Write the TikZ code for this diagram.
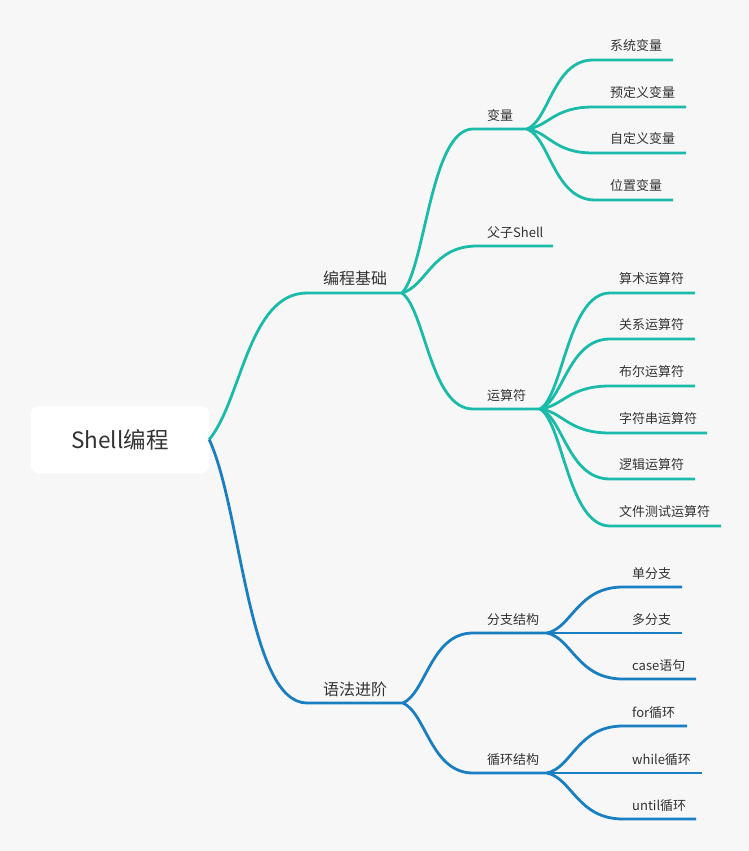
\documentclass[tikz,border=0pt]{standalone}
\usepackage{fontspec}
\setmainfont{Noto Sans CJK SC}
\usetikzlibrary{calc}
\definecolor{bgc}{HTML}{F7F7F7}
\definecolor{tealc}{HTML}{1ABBA8}
\definecolor{bluec}{HTML}{1A7EC3}
\definecolor{txtc}{HTML}{333333}
% #1 style, #2 start point, #3 child name, #4 fraction of the vertical rise used by the first control point
\newcommand\mmcurve[4]{%
  \coordinate (tmpq) at ($(#3L |- #2)!#4!(#3L)$);
  \draw[#1] (#2) .. controls ($(#2)!0.33!(tmpq)$) and ($(#3L -| #2)!0.4!(#3L)$) .. (#3L) -- (#3R);}
\begin{document}
\begin{tikzpicture}[x=1pt,y=-1pt,
  lbl/.style={anchor=west, inner sep=0pt, font=\fontsize{13}{15}\selectfont, text=txtc},
  lblone/.style={anchor=center, inner sep=0pt, font=\fontsize{16}{18}\selectfont, text=txtc},
  tline/.style={draw=tealc, line width=2.8pt},
  bline/.style={draw=bluec, line width=2.8pt}]
\useasboundingbox (0,0) rectangle (749,851);
\fill[bgc] (0,0) rectangle (749,851);
% root
\node[fill=white, rounded corners=7pt, minimum width=178pt, minimum height=67pt, inner sep=0pt,
  font=\fontsize{22.5}{26}\selectfont, text=txtc] (root) at (120,439.5) {Shell编程};
% level 1
\coordinate (bcL) at (307,293); \coordinate (bcR) at (402,293);
\node[lblone] (bc) at (355,278) {编程基础};
\coordinate (yfL) at (307,703); \coordinate (yfR) at (403,703);
\node[lblone] (yf) at (355,689) {语法进阶};
\mmcurve{tline}{root.east}{bc}{0.8}
\mmcurve{bline}{root.east}{yf}{0.8}
% level 2 teal
\foreach \nm/\lx/\rx/\y/\t in {var/473/527/129/变量, fz/477/553/246/父子Shell, ys/473/540/409/运算符}{
  \coordinate (\nm L) at (\lx,\y); \coordinate (\nm R) at (\rx,\y);
  \node[lbl] (\nm) at (487,\y-13.5) {\t};
  \mmcurve{tline}{bcR}{\nm}{0.45}
}
% level 2 blue
\foreach \nm/\lx/\rx/\y/\t in {fzj/473/547/633/分支结构, xhj/473/547/773/循环结构}{
  \coordinate (\nm L) at (\lx,\y); \coordinate (\nm R) at (\rx,\y);
  \node[lbl] (\nm) at (487,\y-13.5) {\t};
  \mmcurve{bline}{yfR}{\nm}{0.45}
}
% variables
\foreach \nm/\lx/\rx/\y/\t in {va/593/673/60/系统变量, vb/593/686/107/预定义变量, vc/593/686/153/自定义变量, vd/595/673/200/位置变量}{
  \coordinate (\nm L) at (\lx,\y); \coordinate (\nm R) at (\rx,\y);
  \node[lbl] (\nm) at (610,\y-14.5) {\t};
  \mmcurve{tline}{varR}{\nm}{0.35}
}
% operators
\foreach \nm/\lx/\rx/\y/\t in {oa/610/695/293/算术运算符, ob/610/695/339/关系运算符, oc/610/695/386/布尔运算符, od/610/707/433/字符串运算符, oe/610/695/479/逻辑运算符, of/610/721/526/文件测试运算符}{
  \coordinate (\nm L) at (\lx,\y); \coordinate (\nm R) at (\rx,\y);
  \node[lbl] (\nm) at (619,\y-14.5) {\t};
  \mmcurve{tline}{ysR}{\nm}{0.35}
}
% branches
\foreach \nm/\lx/\rx/\y/\t in {ba/623/682/587/单分支, bb/623/682/633/多分支, bcc/623/696/679/case语句}{
  \coordinate (\nm L) at (\lx,\y); \coordinate (\nm R) at (\rx,\y);
  \node[lbl] (\nm) at (632,\y-13.5) {\t};
  \mmcurve{bline}{fzjR}{\nm}{0.35}
}
% loops
\foreach \nm/\lx/\rx/\y/\t in {la/623/687/726/for循环, lb/623/702/773/while循环, lc/623/696/819/until循环}{
  \coordinate (\nm L) at (\lx,\y); \coordinate (\nm R) at (\rx,\y);
  \node[lbl] (\nm) at (632,\y-13.5) {\t};
  \mmcurve{bline}{xhjR}{\nm}{0.35}
}
\end{tikzpicture}
\end{document}
